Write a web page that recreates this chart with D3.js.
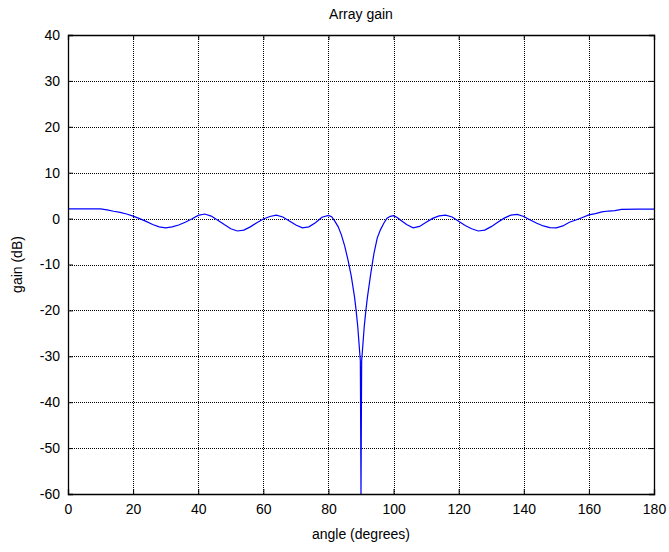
<!DOCTYPE html>
<html>
<head>
<meta charset="utf-8">
<script src="https://cdn.jsdelivr.net/npm/d3@7"></script>
<style>
  html, body { margin: 0; padding: 0; background: #fff; }
  text { font-family: "Liberation Sans", Arial, sans-serif; fill: #000; }
</style>
</head>
<body>
<svg id="chart" width="669" height="552"></svg>
<script>
// ---- data ----
const angles = [0, 5, 10, 12, 14, 16, 18, 20, 22, 24, 26, 28, 30, 32, 34, 36, 38, 40, 42, 44, 46, 48, 50, 52, 54, 56, 58, 60, 62, 64, 66, 68, 70, 72, 74, 76, 78, 80, 81, 82, 83, 84, 85, 86, 87, 88, 88.5, 89, 89.8, 90,
  90.2, 91, 91.5, 92, 93, 94, 95, 96, 97, 98, 99, 100, 101, 102, 104, 106, 108, 110, 112, 114, 116, 118, 120, 122, 124, 126, 128, 130, 132, 134, 136, 138, 140, 142, 144, 146, 148, 150, 152, 154, 156, 158, 160, 162, 164, 166, 168, 170, 175, 180];
const gains = [2.1, 2.1, 2.1, 1.9, 1.6, 1.35, 1.0, 0.55, 0.0, -0.6, -1.3, -1.8, -2.0, -1.8, -1.4, -0.8, -0.1, 0.7, 1.0, 0.55, -0.35, -1.3, -2.2, -2.7, -2.5, -1.8, -0.9, -0.1, 0.45, 0.75, 0.35, -0.5, -1.4, -2.0, -1.8, -0.9, 0.3, 0.7, 0.4, -0.6, -1.8, -3.6, -6.0, -9.0, -12.5, -17, -20, -23.5, -31, -60,
  -31, -23.5, -20, -17, -12, -7.5, -4.2, -2.4, -1.0, 0.1, 0.5, 0.65, 0.3, -0.25, -1.3, -2.0, -1.7, -0.8, 0.05, 0.6, 0.75, 0.35, -0.6, -1.5, -2.2, -2.7, -2.5, -1.75, -0.8, 0.1, 0.75, 0.9, 0.45, -0.3, -1.0, -1.6, -1.95, -2.0, -1.6, -0.8, -0.3, 0.25, 0.8, 1.1, 1.45, 1.65, 1.75, 2.0, 2.05, 2.05];
const xTicks = [0, 20, 40, 60, 80, 100, 120, 140, 160, 180];
const yTicks = [-60, -50, -40, -30, -20, -10, 0, 10, 20, 30, 40];
const titleText = "Array gain";
const xLabel = "angle (degrees)";
const yLabel = "gain (dB)";

// ---- layout ----
const svg = d3.select("#chart");
const L = 68, R = 654, T = 35, B = 494;
const x = d3.scaleLinear().domain([0, 180]).range([L, R]);
const y = d3.scaleLinear().domain([-60, 40]).range([B, T]);

// grid
const grid = svg.append("g").attr("stroke", "#000").attr("stroke-width", 1).attr("stroke-dasharray", "1,1");
grid.selectAll(".gx").data(xTicks.slice(1, -1)).join("line")
  .attr("x1", d => Math.round(x(d)) + 0.5).attr("x2", d => Math.round(x(d)) + 0.5)
  .attr("y1", T).attr("y2", B);
grid.selectAll(".gy").data(yTicks.slice(1, -1)).join("line")
  .attr("y1", d => Math.round(y(d)) + 0.5).attr("y2", d => Math.round(y(d)) + 0.5)
  .attr("x1", L).attr("x2", R);

// curve
const data = angles.map((a, i) => ({a, g: gains[i]}));
svg.append("path").datum(data)
  .attr("fill", "none").attr("stroke", "#0000ff").attr("stroke-width", 1.2)
  .attr("d", d3.line().x(d => x(d.a)).y(d => y(d.g)));

// axes (ticks inward, MATLAB style)
const fs = "14px";
const fmt = d => String(d);
const axB = svg.append("g").attr("transform", `translate(0,${B})`)
  .call(d3.axisBottom(x).tickValues(xTicks).tickSize(-5).tickPadding(10).tickFormat(fmt));
const axL = svg.append("g").attr("transform", `translate(${L},0)`)
  .call(d3.axisLeft(y).tickValues(yTicks).tickSize(-5).tickPadding(8).tickFormat(fmt));
const axT = svg.append("g").attr("transform", `translate(0,${T})`)
  .call(d3.axisTop(x).tickValues(xTicks).tickSize(-5).tickFormat(""));
const axR = svg.append("g").attr("transform", `translate(${R},0)`)
  .call(d3.axisRight(y).tickValues(yTicks).tickSize(-5).tickFormat(""));
[axB, axL, axT, axR].forEach(g => {
  g.selectAll("path.domain").attr("stroke", "#000").attr("stroke-width", 1.3);
  g.selectAll(".tick line").attr("stroke", "#000");
  g.selectAll("text").style("font-size", fs).style("font-family", "'Liberation Sans', Arial, sans-serif").attr("fill", "#000");
});

// labels
svg.append("text").attr("x", (L + R) / 2).attr("y", 19).attr("text-anchor", "middle")
  .style("font-size", "14px").text(titleText);
svg.append("text").attr("x", (L + R) / 2).attr("y", 539).attr("text-anchor", "middle")
  .style("font-size", "14px").text(xLabel);
svg.append("text").attr("transform", `translate(22,${(T + B) / 2}) rotate(-90)`).attr("text-anchor", "middle")
  .style("font-size", "14px").text(yLabel);
</script>
</body>
</html>
